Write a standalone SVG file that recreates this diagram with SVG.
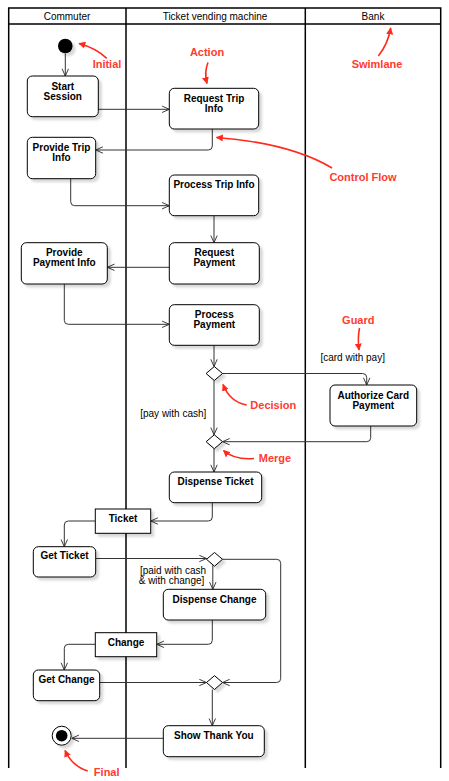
<svg xmlns="http://www.w3.org/2000/svg" width="449" height="781" viewBox="0 0 449 781">
<style>
.lane{fill:none;stroke:#000;stroke-width:1.5}
.hdr{font-family:"Liberation Sans",Arial,sans-serif;font-size:10px;fill:#000;text-anchor:middle}
.node{fill:#fff;stroke:#000;stroke-width:1;filter:url(#sh)}
.t{font-family:"Liberation Sans",Arial,sans-serif;font-size:10px;font-weight:bold;fill:#000;text-anchor:middle}
.g{font-family:"Liberation Sans",Arial,sans-serif;font-size:10px;fill:#000;text-anchor:middle}
.c{fill:none;stroke:#333;stroke-width:1;marker-end:url(#open)}
.r{font-family:"Liberation Sans",Arial,sans-serif;font-size:11px;font-weight:bold;fill:#ff3b30;text-anchor:middle}
.ra{fill:none;stroke:#ff2a1a;stroke-width:1.6;marker-end:url(#red)}
</style>
<defs>
<filter id="sh" x="-20%" y="-20%" width="150%" height="150%">
<feDropShadow dx="3" dy="3" stdDeviation="1" flood-color="#000" flood-opacity="0.15"/>
</filter>
<marker id="open" viewBox="0 0 10 10" refX="10" refY="5" markerWidth="8" markerHeight="8" markerUnits="userSpaceOnUse" orient="auto">
<path d="M1,1 L10,5 L1,9" fill="none" stroke="#333" stroke-width="1.2"/>
</marker>
<marker id="red" viewBox="0 0 10 10" refX="9" refY="5" markerWidth="7" markerHeight="7" markerUnits="userSpaceOnUse" orient="auto">
<path d="M0,0 L10,5 L0,10 Z" fill="#ff2a1a"/>
</marker>
</defs>

<g id="swimlanes">
<path class="lane" d="M8.7,768 V8 H440.7 V768 M8.7,24 H440.7 M126,8 V768 M305.3,8 V768"/>
<text class="hdr" x="67" y="19.5">Commuter</text>
<text class="hdr" x="215" y="19.5">Ticket vending machine</text>
<text class="hdr" x="373" y="19.5">Bank</text>
</g>

<g id="connectors">
<path class="c" d="M65.3,53.5 V76"/>
<path class="c" d="M98.3,109.3 H169.3"/>
<path class="c" d="M212.3,129 V146 Q212.3,150 208.3,150 H95.7"/>
<path class="c" d="M70.7,178.7 V201.7 Q70.7,205.7 74.7,205.7 H169.3"/>
<path class="c" d="M214,215.7 V242.7"/>
<path class="c" d="M169.3,267.3 H107.3"/>
<path class="c" d="M64.3,284 V320.3 Q64.3,324.3 68.3,324.3 H169.3"/>
<path class="c" d="M214,345.3 V366.5"/>
<path class="c" d="M222.5,373.5 H362.7 Q366.7,373.5 366.7,377.5 V385"/>
<path class="c" d="M214,380.5 V434.8"/>
<path class="c" d="M370.7,426 V437.7 Q370.7,441.7 366.7,441.7 H222.5"/>
<path class="c" d="M214,448.7 V472"/>
<path class="c" d="M212.3,502.7 V517 Q212.3,521 208.3,521 H150.7"/>
<path class="c" d="M95.3,521 H68.3 Q64.3,521 64.3,525 V546.7"/>
<path class="c" d="M95.7,558.5 H206.5"/>
<path class="c" d="M212.8,565.3 V589.3"/>
<path class="c" d="M222.5,559.3 H276.7 Q280.7,559.3 280.7,563.3 V678.5 Q280.7,682.5 276.7,682.5 H222.5"/>
<path class="c" d="M212.3,620 V640.3 Q212.3,644.3 208.3,644.3 H156.7"/>
<path class="c" d="M95.3,644.3 H68.3 Q64.3,644.3 64.3,648.3 V670"/>
<path class="c" d="M99.7,682.5 H206.5"/>
<path class="c" d="M212.3,689.5 V725.7"/>
<path class="c" d="M163.3,738.3 H71.7"/>
</g>

<g id="initial"><circle cx="65.3" cy="46" r="7.3" fill="#000" filter="url(#sh)"/></g>

<g id="start-session"><rect class="node" x="27.3" y="76" width="71" height="40.7" rx="5"/><text class="t" x="62.8" y="89.5">Start</text><text class="t" x="62.8" y="99.5">Session</text></g>

<g id="request-trip-info"><rect class="node" x="169.3" y="88.3" width="89.4" height="40.7" rx="5"/><text class="t" x="214" y="101.5">Request Trip</text><text class="t" x="214" y="111.5">Info</text></g>

<g id="provide-trip-info"><rect class="node" x="27.3" y="137.3" width="68.4" height="41.4" rx="5"/><text class="t" x="61.5" y="150.8">Provide Trip</text><text class="t" x="61.5" y="160.8">Info</text></g>

<g id="process-trip-info"><rect class="node" x="169.3" y="175" width="89.4" height="40.7" rx="5"/><text class="t" x="214" y="187.8">Process Trip Info</text></g>

<g id="request-payment"><rect class="node" x="169.3" y="242.7" width="90" height="41.3" rx="5"/><text class="t" x="214.3" y="256.2">Request</text><text class="t" x="214.3" y="266.2">Payment</text></g>

<g id="provide-payment-info"><rect class="node" x="21.3" y="242.7" width="86" height="41.3" rx="5"/><text class="t" x="64.3" y="256.2">Provide</text><text class="t" x="64.3" y="266.2">Payment Info</text></g>

<g id="process-payment"><rect class="node" x="169.3" y="304.7" width="90" height="40.6" rx="5"/><text class="t" x="214.3" y="317.8">Process</text><text class="t" x="214.3" y="327.8">Payment</text></g>

<g id="decision"><path class="node" d="M214.3,366.5 L222.5,373.5 L214.3,380.5 L206.1,373.5 Z"/></g>

<g id="authorize-card-payment"><rect class="node" x="330" y="385" width="86.7" height="41" rx="5"/><text class="t" x="373.3" y="398.5">Authorize Card</text><text class="t" x="373.3" y="408.5">Payment</text></g>

<g id="merge"><path class="node" d="M214.3,434.8 L222.5,441.7 L214.3,448.7 L206.1,441.7 Z"/></g>

<g id="dispense-ticket"><rect class="node" x="169.3" y="472" width="92.4" height="30.7" rx="5"/><text class="t" x="215.5" y="484.5">Dispense Ticket</text></g>

<g id="ticket"><rect class="node" x="95.3" y="509" width="55.4" height="24.3"/><text class="t" x="123" y="521.8">Ticket</text></g>

<g id="get-ticket"><rect class="node" x="33.3" y="546.7" width="62.4" height="30.3" rx="5"/><text class="t" x="64.5" y="558.8">Get Ticket</text></g>

<g id="decision2"><path class="node" d="M214.5,552.5 L222.5,559.3 L214.5,566.2 L206.5,559.3 Z"/></g>

<g id="dispense-change"><rect class="node" x="163.3" y="589.3" width="102.4" height="30.7" rx="5"/><text class="t" x="214.5" y="602.5">Dispense Change</text></g>

<g id="change"><rect class="node" x="95.3" y="632.7" width="61.4" height="24"/><text class="t" x="126" y="645.8">Change</text></g>

<g id="get-change"><rect class="node" x="33.3" y="670" width="66.4" height="30.7" rx="5"/><text class="t" x="66.5" y="682.8">Get Change</text></g>

<g id="merge2"><path class="node" d="M214.5,675.7 L222.5,682.5 L214.5,689.5 L206.5,682.5 Z"/></g>

<g id="show-thank-you"><rect class="node" x="163.3" y="725.7" width="101" height="31" rx="5"/><text class="t" x="213.8" y="738.5">Show Thank You</text></g>

<g id="final"><circle cx="61.7" cy="735.7" r="9.5" fill="#fff" stroke="#000" stroke-width="1" filter="url(#sh)"/><circle cx="61.7" cy="735.7" r="5.8" fill="#000"/></g>

<g id="guards">
<text class="g" x="352.7" y="361">[card with pay]</text>
<text class="g" x="173.3" y="416.8">[pay with cash]</text>
<text class="g" x="173" y="573.5">[paid with cash</text>
<text class="g" x="171.5" y="583.5">&amp; with change]</text>
</g>

<g id="annotations">
<text class="r" x="107" y="68">Initial</text>
<path class="ra" d="M106.7,58.3 Q96,48 79,43.5"/>
<text class="r" x="207" y="56">Action</text>
<path class="ra" d="M208,62.5 Q204,72 207,83.5"/>
<text class="r" x="377" y="68">Swimlane</text>
<path class="ra" d="M378.3,56 Q388,44 390.7,28"/>
<text class="r" x="363" y="180.5">Control Flow</text>
<path class="ra" d="M332,168 Q290,143 216.5,137.5"/>
<text class="r" x="358.3" y="324">Guard</text>
<path class="ra" d="M359.5,328 Q357.5,338 359,350"/>
<text class="r" x="273.3" y="409">Decision</text>
<path class="ra" d="M246.7,405 Q230,402 223,384.5"/>
<text class="r" x="275" y="461.5">Merge</text>
<path class="ra" d="M254,458.5 Q234,460 223.5,450.5"/>
<text class="r" x="106.7" y="775.5">Final</text>
<path class="ra" d="M87.7,771 Q72,766 65,750.5"/>
</g>
</svg>
